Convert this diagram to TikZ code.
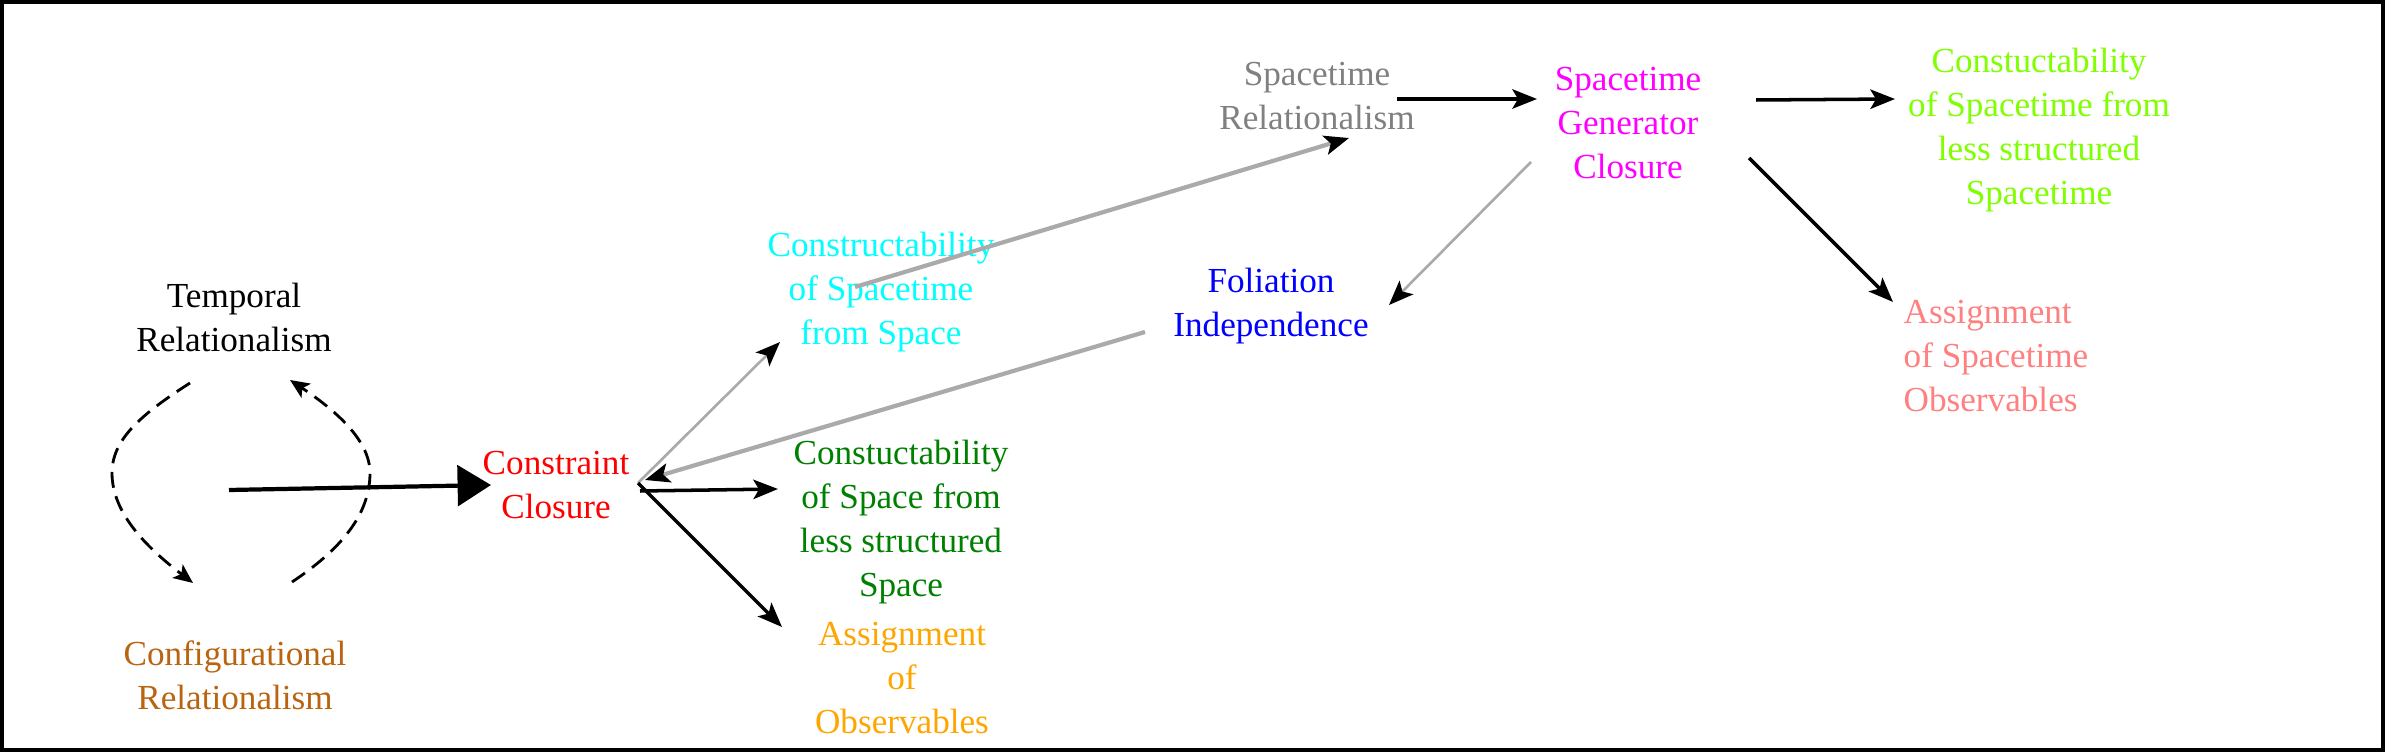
\documentclass[tikz,border=0pt]{standalone}
\usepackage{fontspec}
\setmainfont{Liberation Serif}
\newfontfamily\conceptfont{Liberation Serif}
\usetikzlibrary{arrows.meta}

\definecolor{brownish}{RGB}{185,100,15}
\definecolor{darkgreen}{RGB}{0,128,0}
\definecolor{chartreuse}{RGB}{128,255,0}
\definecolor{salmon}{RGB}{255,128,128}
\definecolor{linegray}{RGB}{170,170,170}
\definecolor{textgray}{RGB}{128,128,128}
\definecolor{skycyan}{RGB}{0,255,255}
\definecolor{pinkmagenta}{RGB}{255,0,255}
\definecolor{amber}{RGB}{255,165,0}
\definecolor{pureblue}{RGB}{0,0,255}
\definecolor{purered}{RGB}{255,0,0}

\begin{document}
\begin{tikzpicture}[
    x=0.01cm, y=-0.01cm,
    font={\conceptfont\fontsize{10}{12.5}\selectfont},
    concept/.style={align=center, inner sep=0pt},
    arrow/.style={line width=1pt, -{Stealth[length=7pt, width=5.5pt, inset=1.6pt]}},
    gray_arrow/.style={line width=1.2pt, draw=linegray, -{Stealth[length=7pt, width=5.5pt, inset=1.6pt, color=black]}},
    thin_gray_arrow/.style={gray_arrow, line width=0.75pt},
    big_arrow/.style={line width=1.2pt, -{Triangle[length=9.5pt, width=11.5pt]}},
    loop_arrow/.style={line width=0.8pt, dash pattern=on 4.5pt off 2.5pt, -{Stealth[length=5.5pt, width=4.8pt, inset=1.3pt]}}
]
\useasboundingbox (0,0) rectangle (2385,752);
\draw [line width=1.15pt] (2,2) rectangle (2383,750);

% --- Nodes ---
% Left (Relationalism loop)
\node (tr) at (234,317) [concept] {Temporal\\Relationalism};
\node (cr) at (235,675) [concept, text=brownish] {Configurational\\Relationalism};
\node (cc) at (556,485) [concept, text=purered] {Constraint\\Closure};

% Middle Column
\node (csp) at (881,292) [concept, text=skycyan] {Constructability\\of Spacetime\\from Space};
\node (css) at (901,522) [concept, text=darkgreen] {Constuctability\\of Space from\\less structured\\Space};
\node (aobs) at (902,678) [concept, text=amber] {Assignment\\of\\Observables};
\node (strel) at (1317,96) [concept, text=textgray] {Spacetime\\Relationalism};
\node (fol) at (1271,306) [concept, text=pureblue] {Foliation\\Independence};

% Right Column (Spacetime)
\node (stgen) at (1628,123) [concept, text=pinkmagenta] {Spacetime\\Generator\\Closure};
\node (cstl) at (2039,130) [concept, text=chartreuse] {Constuctability\\of Spacetime from\\less structured\\Spacetime};
\node (asto) at (1903,356) [concept, anchor=west, align=left, text=salmon] {Assignment\\of Spacetime\\Observables};

\coordinate (hub) at (638,483);

% --- Edges ---
% Relationalism loop
\draw [loop_arrow] ([shift={(-44,66)}]tr.center) .. controls +(-50,32) and +(0,-33) .. ([shift={(-122,156)}]tr.center) .. controls +(0,42) and +(-43,-33) .. ([shift={(-42,-92)}]cr.center);
\draw [loop_arrow] ([shift={(57,-93)}]cr.center) .. controls +(48,-32) and +(0,42) .. ([shift={(135,-202)}]cr.center) .. controls +(0,-33) and +(45,30) .. ([shift={(56,63)}]tr.center);
\draw [big_arrow] ([shift={(-5,173)}]tr.center) -- ([shift={(-65,0)}]cc.center);

% Out of Constraint Closure
\draw [thin_gray_arrow] (hub) -- ([shift={(-101,50)}]csp.center);
\draw [arrow] ([shift={(2,8)}]hub) -- ([shift={(-123,-33)}]css.center);
\draw [arrow] (hub) -- ([shift={(-120,-51)}]aobs.center);
\draw [gray_arrow] ([shift={(-126,26)}]fol.center) -- ([shift={(7,-3)}]hub);

% Spacetime branch
\draw [gray_arrow] ([shift={(-26,-5)}]csp.center) -- ([shift={(32,42)}]strel.center);
\draw [arrow] ([shift={(80,3)}]strel.center) -- ([shift={(-91,-24)}]stgen.center);
\draw [thin_gray_arrow] ([shift={(-97,39)}]stgen.center) -- ([shift={(118,-1)}]fol.center);
\draw [arrow] ([shift={(128,-23)}]stgen.center) -- ([shift={(-144,-31)}]cstl.center);
\draw [arrow] ([shift={(121,35)}]stgen.center) -- ([shift={(-10,-54)}]asto.west);

\end{tikzpicture}
\end{document}
